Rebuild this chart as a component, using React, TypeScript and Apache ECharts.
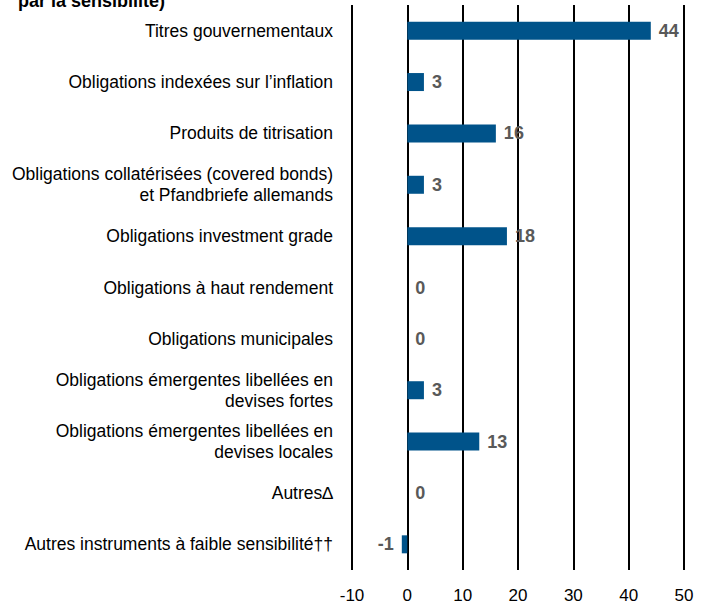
import React, { useEffect, useRef } from "react";
import * as echarts from "echarts";

const categories = [
  "Titres gouvernementaux",
  "Obligations indexées sur l’inflation",
  "Produits de titrisation",
  "Obligations collatérisées (covered bonds)\net Pfandbriefe allemands",
  "Obligations investment grade",
  "Obligations à haut rendement",
  "Obligations municipales",
  "Obligations émergentes libellées en\ndevises fortes",
  "Obligations émergentes libellées en\ndevises locales",
  "Autres∆",
  "Autres instruments à faible sensibilité††",
];
const values = [44, 3, 16, 3, 18, 0, 0, 3, 13, 0, -1];
const xTicks = { min: -10, max: 50, interval: 10 };
const titleText = "par la sensibilité)";

const FONT = "'Liberation Sans', Arial, sans-serif";

export default function App() {
  const ref = useRef<HTMLDivElement>(null);
  useEffect(() => {
    if (!ref.current) return;
    const chart = echarts.init(ref.current, undefined, { renderer: "svg" });
    chart.setOption({
      animation: false,
      backgroundColor: "#ffffff",
      graphic: [
        {
          type: "text",
          left: 18,
          top: -8,
          style: {
            text: titleText,
            font: `bold 18px ${FONT}`,
            fill: "#000",
          },
        },
      ],
      grid: { left: 352, right: 25, top: 5, bottom: 36, containLabel: false },
      xAxis: {
        type: "value",
        min: xTicks.min,
        max: xTicks.max,
        interval: xTicks.interval,
        axisLine: { show: false },
        axisTick: { show: false },
        splitLine: { show: true, lineStyle: { color: "#000", width: 2 } },
        axisLabel: {
          margin: 17,
          fontFamily: FONT,
          fontSize: 17,
          color: "#000",
        },
      },
      yAxis: {
        type: "category",
        data: categories,
        inverse: true,
        axisLine: { show: false },
        axisTick: { show: false },
        axisLabel: {
          margin: 19,
          fontFamily: FONT,
          fontSize: 17.5,
          color: "#000",
          lineHeight: 21,
          align: "right",
        },
      },
      series: [
        {
          type: "bar",
          data: values.map((v) => ({
            value: v,
            label: { position: v < 0 ? "left" : "right" },
          })),
          barWidth: 18,
          itemStyle: { color: "#00538a" },
          label: {
            show: true,
            position: "right",
            distance: 8,
            fontFamily: FONT,
            fontWeight: "bold",
            fontSize: 18,
            color: "#595959",
          },
        },
      ],
    });
    return () => chart.dispose();
  }, []);
  return (
    <div
      ref={ref}
      style={{ position: "absolute", left: 0, top: 0, width: 709, height: 606 }}
    />
  );
}
